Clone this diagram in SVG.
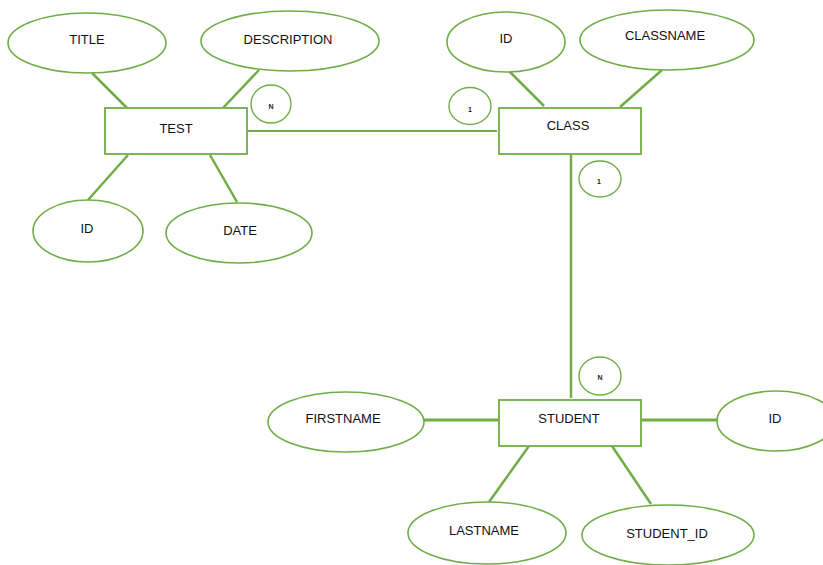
<svg xmlns="http://www.w3.org/2000/svg" width="823" height="565" viewBox="0 0 823 565">
<style>
.e{fill:#fff;stroke:#70AD47;stroke-width:1.6}
.r{fill:#fff;stroke:#70AD47;stroke-width:1.8}
.c{fill:#fff;stroke:#70AD47;stroke-width:1.4}
.l{stroke:#70AD47;stroke-width:2.5;fill:none}
.t{font-family:"Liberation Sans",Arial,sans-serif;font-size:13px;fill:#111;text-anchor:middle;dominant-baseline:central}
.s{font-family:"Liberation Sans",Arial,sans-serif;font-size:7px;font-weight:bold;fill:#222;text-anchor:middle;dominant-baseline:central}
</style>
<rect width="823" height="565" fill="#fff"/>
<g id="connectors">
<line class="l" x1="92" y1="73" x2="127" y2="108"/>
<line class="l" x1="259" y1="70" x2="223" y2="108"/>
<line class="l" x1="128" y1="155" x2="88" y2="200"/>
<line class="l" x1="210" y1="155" x2="237" y2="202"/>
<line class="l" x1="247" y1="131" x2="497" y2="131" style="stroke-width:1.8"/>
<line class="l" x1="509" y1="71" x2="544" y2="106"/>
<line class="l" x1="662" y1="70" x2="620" y2="107"/>
<line class="l" x1="571" y1="152" x2="571" y2="398"/>
<line class="l" x1="424" y1="420" x2="499" y2="420" style="stroke-width:3"/>
<line class="l" x1="641" y1="420" x2="717" y2="420" style="stroke-width:3"/>
<line class="l" x1="529" y1="446" x2="489" y2="502"/>
<line class="l" x1="612" y1="446" x2="651" y2="504"/>
</g>
<g id="title"><ellipse class="e" cx="87" cy="43" rx="79" ry="30"/><text class="t" x="87" y="39">TITLE</text></g>
<g id="description"><ellipse class="e" cx="290" cy="41" rx="89" ry="30"/><text class="t" x="288" y="39">DESCRIPTION</text></g>
<g id="test"><rect class="r" x="105" y="108" width="142" height="46"/><text class="t" x="176" y="128">TEST</text></g>
<g id="test-id"><ellipse class="e" cx="88" cy="231" rx="55" ry="31"/><text class="t" x="87" y="228">ID</text></g>
<g id="date"><ellipse class="e" cx="239" cy="233" rx="73" ry="30"/><text class="t" x="240" y="230">DATE</text></g>
<g id="card-n1"><ellipse class="c" cx="271" cy="104" rx="20" ry="19"/><text class="s" x="271" y="106">N</text></g>
<g id="card-11"><ellipse class="c" cx="470" cy="106" rx="21" ry="18.5"/><text class="s" x="470" y="109">1</text></g>
<g id="class-id"><ellipse class="e" cx="506" cy="42" rx="59" ry="30"/><text class="t" x="506" y="38">ID</text></g>
<g id="classname"><ellipse class="e" cx="667" cy="40" rx="87" ry="30"/><text class="t" x="665" y="35">CLASSNAME</text></g>
<g id="class"><rect class="r" x="499" y="108" width="142" height="46"/><text class="t" x="568" y="125">CLASS</text></g>
<g id="card-12"><ellipse class="c" cx="600" cy="179" rx="21" ry="18"/><text class="s" x="599" y="181">1</text></g>
<g id="card-n2"><ellipse class="c" cx="600" cy="376" rx="21" ry="19"/><text class="s" x="600" y="377">N</text></g>
<g id="student"><rect class="r" x="499" y="400" width="142" height="46"/><text class="t" x="569" y="418">STUDENT</text></g>
<g id="firstname"><ellipse class="e" cx="346" cy="422" rx="78" ry="30"/><text class="t" x="343" y="418">FIRSTNAME</text></g>
<g id="student-id-attr"><ellipse class="e" cx="776" cy="421" rx="59" ry="30"/><text class="t" x="775" y="418">ID</text></g>
<g id="lastname"><ellipse class="e" cx="487" cy="533" rx="79" ry="31"/><text class="t" x="484" y="530">LASTNAME</text></g>
<g id="student_id"><ellipse class="e" cx="668" cy="535" rx="86" ry="30"/><text class="t" x="667" y="533">STUDENT_ID</text></g>
</svg>
